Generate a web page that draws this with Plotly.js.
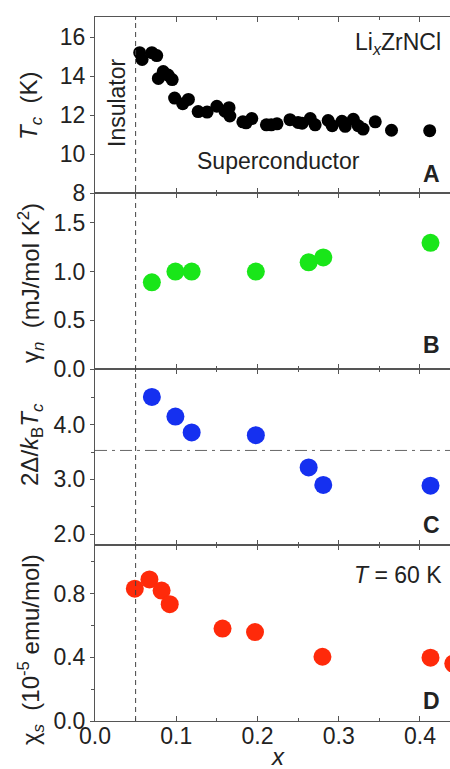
<!DOCTYPE html>
<html>
<head>
<meta charset="utf-8">
<script src="https://cdn.plot.ly/plotly-3.0.1.min.js"></script>
<style>html,body{margin:0;padding:0;background:#fff;}#chart{width:450px;height:769px;}</style>
</head>
<body>
<div id="chart"></div>
<script>
// Panel A: Tc (K) vs x
const xA = [0.055, 0.058, 0.070, 0.076, 0.078, 0.084, 0.090, 0.095, 0.098, 0.108, 0.115, 0.127, 0.138, 0.150, 0.160, 0.165, 0.166, 0.182, 0.186, 0.193, 0.211, 0.217, 0.224, 0.240, 0.250, 0.255, 0.265, 0.271, 0.287, 0.292, 0.304, 0.308, 0.318, 0.324, 0.330, 0.345, 0.365, 0.412];
const yA = [15.2, 14.85, 15.2, 15.05, 13.88, 14.23, 14.05, 13.82, 12.87, 12.58, 12.8, 12.18, 12.15, 12.45, 12.2, 12.38, 11.95, 11.65, 11.6, 11.82, 11.5, 11.5, 11.55, 11.76, 11.62, 11.58, 11.82, 11.5, 11.72, 11.45, 11.68, 11.42, 11.78, 11.45, 11.28, 11.65, 11.22, 11.2];
// Panel B: gamma_n (mJ/mol K^2)
const xB = [0.070, 0.099, 0.119, 0.198, 0.263, 0.281, 0.413];
const yB = [0.89, 1.0, 1.0, 1.0, 1.095, 1.145, 1.295];
// Panel C: 2Delta/kB Tc
const xC = [0.070, 0.099, 0.119, 0.198, 0.263, 0.281, 0.413];
const yC = [4.51, 4.15, 3.86, 3.81, 3.22, 2.90, 2.885];
// Panel D: chi_s (1e-5 emu/mol)
const xD = [0.049, 0.067, 0.082, 0.092, 0.157, 0.197, 0.280, 0.413, 0.441];
const yD = [0.83, 0.888, 0.818, 0.733, 0.58, 0.558, 0.403, 0.397, 0.36];
const bcsRatio = 3.53;
const boundaryX = 0.05;
const xTickVals = [0, 0.1, 0.2, 0.3, 0.4];
const xTickText = ["0.0", "0.1", "0.2", "0.3", "0.4"];

const FONT = "Liberation Sans, Arial, Helvetica, sans-serif";
const AX = "#555";
const TXT = "#222";
const XR = [0, 0.437];
const FS = 23;

function xax(anchor, labels) {
  return {
    domain: [0, 1], anchor: anchor, range: XR, showline: true, linecolor: AX, linewidth: 1,
    mirror: "ticks", ticks: "inside", ticklen: 5, tickcolor: AX, tickwidth: 1,
    tickvals: xTickVals, ticktext: xTickText, showticklabels: labels, ticklabelstandoff: -6,
    minor: {tickvals: [0.05, 0.15, 0.25, 0.35], ticks: "inside", ticklen: 3, tickcolor: AX},
    showgrid: false, zeroline: false, fixedrange: true,
    tickfont: {family: FONT, size: FS, color: TXT}
  };
}
function yax(domain, range, tickvals, ticktext, minorvals) {
  const a = {
    domain: domain, range: range, showline: true, linecolor: AX, linewidth: 1, mirror: false,
    ticks: "outside", ticklen: 4, tickcolor: AX, tickvals: tickvals, ticktext: ticktext,
    showgrid: false, zeroline: false, fixedrange: true,
    tickfont: {family: FONT, size: FS, color: TXT}
  };
  if (minorvals) a.minor = {tickvals: minorvals, ticks: "outside", ticklen: 3, tickcolor: AX};
  return a;
}

const traces = [
  {x: xD, y: yD, xaxis: "x", yaxis: "y", type: "scatter", mode: "markers", marker: {color: "#ff2a0a", size: 18}, cliponaxis: true},
  {x: xC, y: yC, xaxis: "x2", yaxis: "y2", type: "scatter", mode: "markers", marker: {color: "#1530f0", size: 18}},
  {x: xB, y: yB, xaxis: "x3", yaxis: "y3", type: "scatter", mode: "markers", marker: {color: "#19e619", size: 18}},
  {x: xA, y: yA, xaxis: "x4", yaxis: "y4", type: "scatter", mode: "markers", marker: {color: "#000", size: 13}}
];

function P(px) { return (px - 95) / 355; }
function Q(py) { return (721 - py) / 704; }
function ann(text, px, py, xanchor, opts) {
  return Object.assign({text: text, xref: "paper", yref: "paper", x: P(px), y: Q(py), xanchor: xanchor, yanchor: "middle",
    showarrow: false, font: {family: FONT, size: FS, color: TXT}}, opts || {});
}
const TF = {family: FONT, size: 24, color: TXT};

const layout = {
  width: 450, height: 769, margin: {l: 95, r: 0, t: 17, b: 48},
  paper_bgcolor: "#fff", plot_bgcolor: "#fff", showlegend: false,
  xaxis: xax("y", true),
  xaxis2: xax("y2", false),
  xaxis3: xax("y3", false),
  xaxis4: xax("y4", false),
  yaxis: yax([0, 0.25], [0, 1.104], [0, 0.4, 0.8], ["0.0", "0.4", "0.8"], [0.2, 0.6, 1.0]),
  yaxis2: yax([0.25, 0.5], [1.8, 5.02], [2, 3, 4], ["2.0", "3.0", "4.0"], [2.5, 3.5, 4.5]),
  yaxis3: yax([0.5, 0.75], [0, 1.806], [0, 0.5, 1.0, 1.5], ["0.0", "0.5", "1.0", "1.5"], null),
  yaxis4: yax([0.75, 1], [8, 17.03], [8, 10, 12, 14, 16], ["8", "10", "12", "14", "16"], null),
  shapes: [
    {type: "line", xref: "x", yref: "paper", x0: boundaryX, x1: boundaryX, y0: 0, y1: 1, line: {color: "#444", width: 1, dash: "5px,4px"}},
    {type: "line", xref: "paper", yref: "y2", x0: 0, x1: 1, y0: bcsRatio, y1: bcsRatio, line: {color: "#666", width: 1, dash: "12px,5px,3px,5px"}}
  ],
  annotations: [
    ann("Insulator", 117, 103, "center", {textangle: -90}),
    ann("Li<sub><i>x</i></sub>ZrNCl", 443, 43, "right"),
    ann("Superconductor", 278, 161, "center"),
    ann("<b>A</b>", 442, 173.5, "right"),
    ann("<b>B</b>", 442, 345, "right"),
    ann("<b>C</b>", 442, 525, "right"),
    ann("<b>D</b>", 442, 700.5, "right"),
    ann("<i>T</i> = 60 K", 444, 574.5, "right"),
    ann("<i>T<sub>c</sub></i>  (K)", 30, 106, "center", {textangle: -90, font: TF}),
    ann("γ<sub><i>n</i></sub>  (mJ/mol K<sup>2</sup>)", 31, 283, "center", {textangle: -90, font: TF}),
    ann("2Δ/<i>k</i><sub>B</sub><i>T</i><sub><i>c</i></sub>", 31, 445, "center", {textangle: -90, font: TF}),
    ann("χ<sub><i>s</i></sub>  (10<sup>-5</sup> emu/mol)", 31, 650, "center", {textangle: -90, font: TF}),
    ann("<i>x</i>", 278, 757, "center", {font: TF})
  ]
};

Plotly.newPlot("chart", traces, layout, {staticPlot: true, displayModeBar: false});
</script>
</body>
</html>
